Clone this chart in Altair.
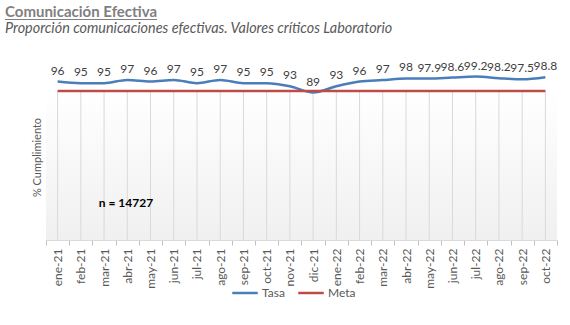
import altair as alt
import pandas as pd

meses = ["ene-21", "feb-21", "mar-21", "abr-21", "may-21", "jun-21", "jul-21", "ago-21",
         "sep-21", "oct-21", "nov-21", "dic-21", "ene-22", "feb-22", "mar-22", "abr-22",
         "may-22", "jun-22", "jul-22", "ago-22", "sep-22", "oct-22"]
tasa = [96, 95, 95, 97, 96, 97, 95, 97, 95, 95, 93, 89, 93, 96, 97, 98, 97.9, 98.6, 99.2, 98.2, 97.5, 98.8]
meta = [90] * len(meses)
n_text = "n = 14727"
titulo = "Comunicación Efectiva"
subtitulo = "Proporción comunicaciones efectivas. Valores críticos Laboratorio"

W, H = 511, 149
FONT = "Lato"

rows = []
for m, t, mt in zip(meses, tasa, meta):
    rows.append({"mes": m, "serie": "Tasa", "valor": t, "label": f"{t:g}"})
    rows.append({"mes": m, "serie": "Meta", "valor": mt, "label": ""})
df = pd.DataFrame(rows)
df_t = df[df.serie == "Tasa"]
df_m = pd.DataFrame({"mes": meses})
one = df_m.head(1)

xenc = alt.X("mes:N", sort=meses, title=None,
             scale=alt.Scale(paddingInner=0, paddingOuter=0),
             axis=alt.Axis(labelAngle=-90, grid=False, tickBand="extent",
                           labelColor="#595959", labelFont=FONT, labelFontSize=12,
                           tickColor="#BFBFBF", tickSize=5, domainColor="#D9D9D9",
                           labelPadding=3))
yscale = alt.Scale(domain=[-5, 90], nice=False, zero=False)

bg = alt.Chart(df_m).mark_rect(
    fill=alt.LinearGradient(gradient="linear", x1=0, x2=0, y1=0, y2=1,
                            stops=[alt.GradientStop(color="#FFFFFF", offset=0),
                                   alt.GradientStop(color="#F0F0F0", offset=1)])
).encode(x=alt.value(0), x2=alt.value(W), y=alt.value(0), y2=alt.value(H))

grid = alt.Chart(df_m).mark_rule(color="#D9D9D9", strokeWidth=1).encode(
    x=alt.X("mes:N", sort=meses), y=alt.value(0), y2=alt.value(H))

lines = alt.Chart(df).mark_line(interpolate="monotone", strokeWidth=2.5).encode(
    x=xenc,
    y=alt.Y("valor:Q", scale=yscale,
            axis=alt.Axis(labels=False, ticks=False, grid=False, domain=False,
                          title="% Cumplimiento", titleColor="#595959", titleFont=FONT,
                          titleFontSize=11, titleFontWeight="normal", titlePadding=4,
                          titleY=66)),
    color=alt.Color("serie:N", sort=["Tasa", "Meta"],
                    scale=alt.Scale(domain=["Tasa", "Meta"], range=["#4A7EBB", "#BE4B48"]),
                    legend=alt.Legend(title=None, orient="none", direction="horizontal",
                                      legendX=185, legendY=188, symbolType="stroke",
                                      symbolSize=650, symbolStrokeWidth=2.5,
                                      labelFont=FONT, labelFontSize=12, labelColor="#595959",
                                      columnPadding=8, labelOffset=3)),
)

labels = alt.Chart(df_t).mark_text(dy=-11, fontSize=12, font=FONT, color="#404040").encode(
    x=alt.X("mes:N", sort=meses), y=alt.Y("valor:Q", scale=yscale), text="label:N")

ntext = alt.Chart(one).mark_text(fontSize=12, font=FONT, fontWeight="bold",
                                 color="#000000").encode(
    x=alt.value(80), y=alt.value(112), text=alt.value(n_text))

title_t = alt.Chart(one).mark_text(fontSize=15, font=FONT, fontWeight="bold", color="#7F7F7F",
                                   align="left", baseline="alphabetic").encode(
    x=alt.value(-41), y=alt.value(-74), text=alt.value(titulo))

sub_t = alt.Chart(one).mark_text(fontSize=14.4, font=FONT, fontStyle="italic", color="#595959",
                                 align="left", baseline="alphabetic").encode(
    x=alt.value(-41), y=alt.value(-58), text=alt.value(subtitulo))

underline = alt.Chart(one).mark_rule(color="#7F7F7F", strokeWidth=1).encode(
    x=alt.value(-41), x2=alt.value(111), y=alt.value(-71.5))

chart = alt.layer(bg, grid, lines, labels, ntext, title_t, sub_t, underline).properties(
    width=W, height=H,
    autosize=alt.AutoSizeParams(type="none"),
    padding={"left": 46, "top": 91, "right": 13, "bottom": 85},
).configure_view(strokeWidth=0)

chart.save("out.html", embed_options={"renderer": "svg", "actions": False})
